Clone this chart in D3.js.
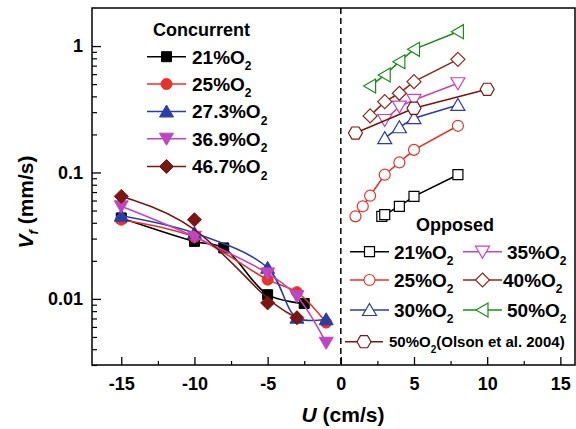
<!DOCTYPE html>
<html><head><meta charset="utf-8">
<script src="https://cdn.jsdelivr.net/npm/d3@7"></script>
<style>
body{margin:0;background:#fff}
text{font-family:"Liberation Sans",Arial,sans-serif;font-weight:bold;fill:#000}
</style>
</head><body><svg id="c" width="576" height="429"></svg>
<script>
// ---- Data ----
// Concurrent flow (negative U)
const c21U = [-15, -10, -8, -5, -2.5];
const c21V = [0.0437, 0.0285, 0.0253, 0.0108, 0.0092];
const c25U = [-15, -10, -5, -3, -1];
const c25V = [0.0423, 0.0309, 0.0142, 0.0113, 0.0065];
const c273U = [-15, -10, -5, -3, -1];
const c273V = [0.0455, 0.0332, 0.0176, 0.0071, 0.0069];
const c369U = [-15, -10, -5, -3, -1];
const c369V = [0.054, 0.031, 0.0159, 0.0105, 0.0045];
const c467U = [-15, -10, -5, -3];
const c467V = [0.0647, 0.0423, 0.0093, 0.0071];
// Opposed flow (positive U)
const o21U = [2.8, 3, 4, 5, 8];
const o21V = [0.045, 0.0464, 0.054, 0.0647, 0.096];
const o25U = [1, 1.5, 2, 3, 4, 5, 8];
const o25V = [0.045, 0.054, 0.0655, 0.096, 0.12, 0.151, 0.234];
const o30U = [3, 4, 5, 8];
const o30V = [0.187, 0.228, 0.269, 0.342];
const o35U = [3, 4, 5, 8];
const o35V = [0.26, 0.332, 0.375, 0.508];
const o40U = [2, 3, 4, 5, 8];
const o40V = [0.28, 0.363, 0.423, 0.523, 0.785];
const o50U = [2, 3, 4, 5, 8];
const o50V = [0.483, 0.59, 0.752, 0.942, 1.30];
const olsonU = [1, 5, 10];
const olsonV = [0.205, 0.322, 0.455];

const concLabels = ["21%O", "25%O", "27.3%O", "36.9%O", "46.7%O"];
const oppLabels = ["21%O", "25%O", "30%O", "35%O", "40%O", "50%O"];
const olsonLabel = "(Olson et al. 2004)";
const xTicks = [-15, -10, -5, 0, 5, 10, 15];
const xMinor = [-12.5, -7.5, -2.5, 2.5, 7.5, 12.5];
const yTicks = [0.01, 0.1, 1];
const yTickLabels = ["0.01", "0.1", "1"];

// ---- Setup ----
const svg = d3.select("#c");
const L = 92, R = 575, T = 8, B = 365;
const x = d3.scaleLinear().domain([-17, 16]).range([L, R]);
const y = d3.scaleLog().domain([0.003, 2]).range([B, T]);

const COL = {
  black: "#000000", red: "#e8322a", blue: "#2b3ea3", purple: "#c045c0",
  brown: "#7a1712", green: "#1c8c1c", brown2: "#8a2a20"
};

function markerPath(type) {
  switch (type) {
    case "square": return "M-5,-5H5V5H-5Z";
    case "circle": return "M5.5,0A5.5,5.5 0 1,1 -5.5,0A5.5,5.5 0 1,1 5.5,0Z";
    case "up": return "M0,-6.5L7,5.5L-7,5.5Z";
    case "down": return "M0,6.5L7,-5.5L-7,-5.5Z";
    case "left": return "M-6.5,0L5.5,-7L5.5,7Z";
    case "diamond": return "M0,-7L7,0L0,7L-7,0Z";
    case "hex": {
      const r = 7; let p = [];
      for (let i = 0; i < 6; i++) { const a = Math.PI / 3 * i; p.push([r * Math.cos(a), r * Math.sin(a)]); }
      return "M" + p.map(d => d[0].toFixed(2) + "," + d[1].toFixed(2)).join("L") + "Z";
    }
  }
}

// Frame
svg.append("rect").attr("x", L).attr("y", T).attr("width", R - L).attr("height", B - T)
  .attr("fill", "none").attr("stroke", "#000").attr("stroke-width", 1.5);

// zero line
svg.append("line").attr("x1", x(0)).attr("x2", x(0)).attr("y1", T).attr("y2", B)
  .attr("stroke", "#000").attr("stroke-width", 1.5).attr("stroke-dasharray", "6,4");

// X axis
const xAxis = d3.axisBottom(x).tickValues(xTicks).tickSize(-8).tickPadding(12).tickFormat(d3.format("d"));
const gx = svg.append("g").attr("transform", `translate(0,${B})`).call(xAxis);
gx.select(".domain").remove();
gx.selectAll(".tick line").attr("stroke-width", 1.3);
gx.selectAll("text").style("font-size", "18px").attr("dy", "0.71em").text(d => d < 0 ? "-" + Math.abs(d) : d);
const gxm = svg.append("g").attr("transform", `translate(0,${B})`).call(d3.axisBottom(x).tickValues(xMinor).tickSize(-4).tickFormat(""));
gxm.select(".domain").remove();
gxm.selectAll(".tick line").attr("stroke-width", 1.2);

// Y axis
const yMinorVals = [];
[0.001, 0.01, 0.1].forEach(b => { for (let k = 2; k <= 9; k++) { const v = b * k; if (v >= 0.003 && v < 2) yMinorVals.push(v); } });
const gy = svg.append("g").attr("transform", `translate(${L},0)`)
  .call(d3.axisLeft(y).tickValues(yTicks).tickSize(-9).tickPadding(9).tickFormat((d, i) => yTickLabels[i]));
gy.select(".domain").remove();
gy.selectAll(".tick line").attr("stroke-width", 1.3);
gy.selectAll("text").style("font-size", "18px");
const gym = svg.append("g").attr("transform", `translate(${L},0)`)
  .call(d3.axisLeft(y).tickValues(yMinorVals).tickSize(-5).tickFormat(""));
gym.select(".domain").remove();
gym.selectAll(".tick line").attr("stroke-width", 1.2);

// Axis labels
const xl = svg.append("text").attr("x", 343).attr("y", 422).attr("text-anchor", "middle").style("font-size", "21px");
xl.append("tspan").attr("font-style", "italic").text("U");
xl.append("tspan").text(" (cm/s)");
const yl = svg.append("text").attr("transform", "translate(33,202) rotate(-90)").attr("text-anchor", "middle").style("font-size", "21px");
yl.append("tspan").attr("font-style", "italic").text("V");
yl.append("tspan").attr("font-style", "italic").attr("dy", 5).style("font-size", "13px").text("f");
yl.append("tspan").attr("dy", -5).text(" (mm/s)");

// ---- Series ----
const conc = [
  { u: c21U, v: c21V, c: COL.black, m: "square", curve: d3.curveCatmullRom },
  { u: c25U, v: c25V, c: COL.red, m: "circle", curve: d3.curveCatmullRom },
  { u: c273U, v: c273V, c: COL.blue, m: "up", curve: d3.curveCatmullRom },
  { u: c369U, v: c369V, c: COL.purple, m: "down", curve: d3.curveCatmullRom },
  { u: c467U, v: c467V, c: COL.brown, m: "diamond", curve: d3.curveBasis }
];
const opp = [
  { u: o21U, v: o21V, c: COL.black, m: "square" },
  { u: o25U, v: o25V, c: COL.red, m: "circle" },
  { u: o30U, v: o30V, c: COL.blue, m: "up" },
  { u: o35U, v: o35V, c: COL.purple, m: "down" },
  { u: o40U, v: o40V, c: COL.brown2, m: "diamond" },
  { u: o50U, v: o50V, c: COL.green, m: "left" }
];
const olson = { u: olsonU, v: olsonV, c: COL.brown, m: "hex" };

function drawSeries(s, filled, curve) {
  const pts = s.u.map((u, i) => [u, s.v[i]]);
  const line = d3.line().x(d => x(d[0])).y(d => y(d[1])).curve(curve || d3.curveLinear);
  svg.append("path").attr("d", line(pts)).attr("fill", "none").attr("stroke", s.c).attr("stroke-width", 1.6);
  svg.append("g").selectAll("path").data(pts).join("path")
    .attr("transform", d => `translate(${x(d[0])},${y(d[1])})`)
    .attr("d", markerPath(s.m))
    .attr("fill", filled ? s.c : "#fff").attr("stroke", s.c).attr("stroke-width", filled ? 1 : 1.2);
}
opp.forEach(s => drawSeries(s, false));
drawSeries(olson, false);
conc.forEach(s => drawSeries(s, true, s.curve));

// ---- Legends ----
function legendEntry(x1, x2, yy, s, filled, label, tx, fs, subfs) {
  svg.append("line").attr("x1", x1).attr("x2", x2).attr("y1", yy).attr("y2", yy).attr("stroke", s.c).attr("stroke-width", 1.6);
  svg.append("path").attr("transform", `translate(${(x1 + x2) / 2},${yy})`).attr("d", markerPath(s.m))
    .attr("fill", filled ? s.c : "#fff").attr("stroke", s.c).attr("stroke-width", filled ? 1 : 1.2);
  const t = svg.append("text").attr("x", tx).attr("y", yy + fs * 0.36).style("font-size", fs + "px");
  t.append("tspan").text(label);
  t.append("tspan").attr("dy", subfs * 0.55).style("font-size", subfs + "px").text("2");
  return t;
}
svg.append("text").attr("x", 153).attr("y", 36).style("font-size", "18px").text("Concurrent");
const concRows = [56.7, 84, 111.5, 138.7, 166.5];
conc.forEach((s, i) => legendEntry(147, 186, concRows[i], s, true, concLabels[i], 192, 19, 12));

svg.append("text").attr("x", 416).attr("y", 231).style("font-size", "18px").text("Opposed");
const oppRows = [251.7, 280, 310];
opp.forEach((s, i) => {
  const col = Math.floor(i / 3), row = i % 3;
  if (col === 0) legendEntry(350, 389, oppRows[row], s, false, oppLabels[i], 394, 19, 12);
  else legendEntry(463, 502, oppRows[row], s, false, oppLabels[i], i === 4 ? 503 : 507, 19, 12);
});
const ot = legendEntry(345, 383, 341.7, olson, false, "50%O", 389, 15, 10);
ot.append("tspan").attr("dy", -10 * 0.55).style("font-size", "15px").text(olsonLabel);
</script></body></html>
